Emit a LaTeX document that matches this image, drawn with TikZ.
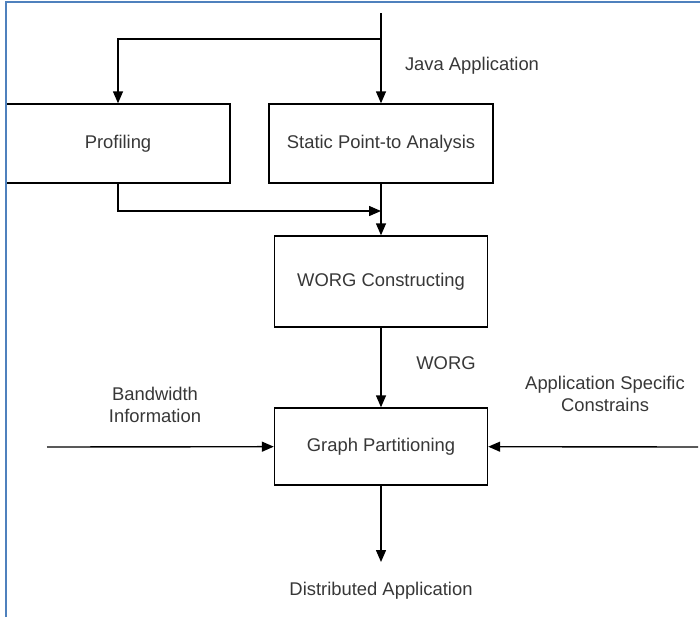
\documentclass[tikz,border=0pt]{standalone}
\usepackage{fontspec}
\setmainfont{Liberation Sans}
\usepackage{xcolor}
\usepackage{tikz}
\usetikzlibrary{arrows.meta}

\definecolor{frameblue}{RGB}{79,129,189}
\definecolor{inktext}{RGB}{55,55,55}

\begin{document}
\begin{tikzpicture}[x=0.5pt, y=-0.5pt, font=\fontsize{9.2}{11}\selectfont,
    block/.style={draw, rectangle, line width=0.7pt, inner sep=0pt, text=inktext,
        minimum width=112pt, minimum height=39.5pt},
    lbl/.style={text=inktext, align=center},
    flow/.style={-{Triangle[length=6pt,width=5pt]}, line width=0.7pt}]
            \useasboundingbox (0,0) rectangle (700,617);

            % processing steps
            \node[block] (prof) at (118,143.5) {Profiling};
            \node[block] (stat) at (381,143.5) {Static Point-to Analysis};
            \node[block, minimum width=106.5pt, minimum height=45.5pt] (worg) at (381,281.5) {WORG Constructing};
            \node[block, minimum width=106.5pt, minimum height=38.5pt] (part) at (381,446.5) {Graph Partitioning};

            % free ends of the connectors
            \coordinate (src) at (381,13);
            \coordinate (split) at (381,39);
            \coordinate (merge) at (381,211);
            \coordinate (bw) at (47,447);
            \coordinate (asc) at (698,447);
            \coordinate (dst) at (381,562);

            % labels
            \node[lbl] (javalbl) at (472,66) {Java Application};
            \node[lbl] (worglbl) at (446,363) {WORG};
            \node[lbl] (bwlbl) at (155,405) {Bandwidth\\Information};
            \node[lbl] (asclbl) at (605,394) {Application Specific\\Constrains};
            \node[lbl] (dstlbl) at (381,591) {Distributed Application};

            \draw[flow] (src) -- (stat);
            \draw[flow] (split) -| (prof);
            \draw[flow] (prof) |- (merge);
            \draw[flow] (stat) -- (worg);
            \draw[flow] (worg) -- (part);
            \draw[flow] (bw) -- (part);
            \draw[flow] (asc) -- (part);
            \draw[flow] (part) -- (dst);

            % page frame on the left and top
            \draw[frameblue, line width=1.1pt] (6,617) -- (6,2) -- (700,2);
        \end{tikzpicture}
\end{document}
